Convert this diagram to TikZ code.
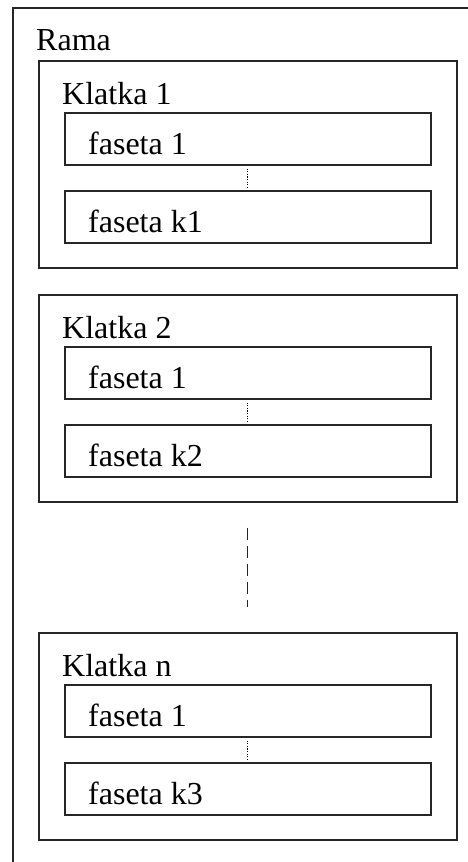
\documentclass[tikz,border=0pt]{standalone}
\usepackage{fontspec}
\setmainfont{Liberation Serif}
\begin{document}
\begin{tikzpicture}[x=1pt,y=-1pt,
  frame/.style={draw=black!85, line width=1.6pt},
  klatka/.style={frame, minimum width=418pt, minimum height=207pt, anchor=north west, inner sep=0pt},
  faseta/.style={frame, minimum width=366pt, minimum height=52pt, anchor=north west, inner sep=0pt},
  lbl/.style={anchor=base west, inner sep=0pt, font=\fontsize{32}{38}\selectfont},
  dots/.style={draw=black, dash pattern=on 1.2pt off 1.4pt, line width=1.2pt, shorten >=3pt, shorten <=3pt},
  gap/.style={draw=black!85, dash pattern=on 12pt off 6pt, line width=1.3pt, shorten >=25pt, shorten <=25pt}]
\useasboundingbox (0,0) rectangle (467,862);
% outer frame (Rama)
\draw[frame] (13,870) -- (13,8) -- (475,8);
\node[lbl] (rama) at (36,50) {Rama};
\foreach \t/\lab/\kl/\n in {60/1/k1/a, 294/2/k2/b, 632/n/k3/c} {
  \node[klatka] (K\n) at (38,\t) {};
  \node[lbl] (KL\n) at (62,\t+44) {Klatka \lab};
  \node[faseta] (Fa\n) at (64,\t+52) {};
  \node[lbl] (FaL\n) at (88,\t+94) {faseta 1};
  \node[faseta] (Fk\n) at (64,\t+130) {};
  \node[lbl] (FkL\n) at (88,\t+172) {faseta \kl};
  \draw[dots] (Fa\n.south) -- (Fk\n.north);
}
\draw[gap] (Kb.south) -- (Kc.north);
\end{tikzpicture}
\end{document}
